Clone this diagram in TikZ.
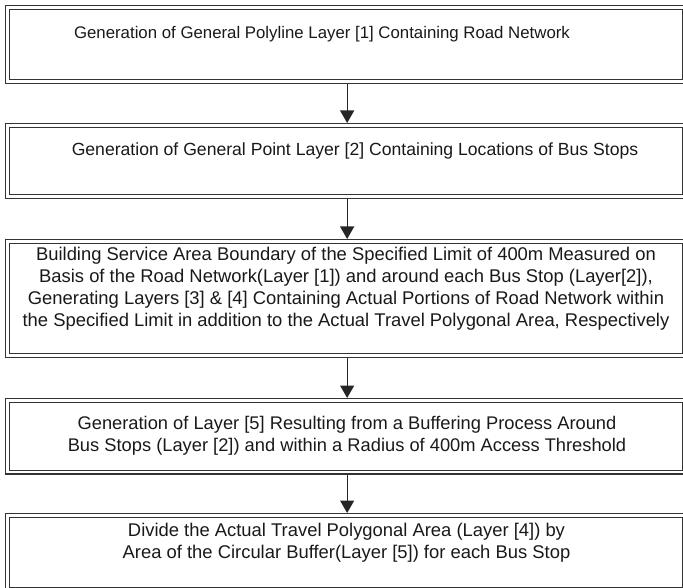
\documentclass[tikz,border=0pt]{standalone}
\usepackage{fontspec}
\setmainfont{Liberation Sans}
\usetikzlibrary{arrows.meta}
\begin{document}
\begin{tikzpicture}[x=1pt,y=-1pt,
  stepbox/.style={draw=black!80, line width=1.3pt, double=white, double distance=2.5pt,
    minimum width=677pt, inner sep=0pt, anchor=north west},
  label/.style={text=black!90, align=center, inner sep=0pt, anchor=base},
  fs/.style={font=\fontsize{#1}{21.7}\selectfont},
  flow/.style={draw=black!85, line width=1.3pt, shorten <=2pt, shorten >=2pt,
    -{Triangle[width=14pt,length=12.5pt]}}]
\useasboundingbox (0,0) rectangle (683,588);

% five process boxes, top to bottom
\node[stepbox, minimum height=74pt]   (b1) at (7,7)   {};
\node[stepbox, minimum height=71pt]   (b2) at (7,125) {};
\node[stepbox, minimum height=114pt]  (b3) at (7,241) {};
\node[stepbox, minimum height=71.5pt] (b4) at (7,400) {};
\node[stepbox, minimum height=74pt]   (b5) at (7,515) {};

% box texts (anchored on the baseline of the last line)
\node[label, fs=16.8] (t1) at (322,38.5) {Generation of General Polyline Layer [1] Containing Road Network};
\node[label, fs=17.6] (t2) at (355,155.5) {Generation of General Point Layer [2] Containing Locations of Bus Stops};
\node[label, fs=18.4] (t3) at (346,326) {Building Service Area Boundary of the Specified Limit of 400m Measured on\\
  Basis of the Road Network(Layer [1]) and around each Bus Stop (Layer[2]),\\
  Generating Layers [3] \& [4] Containing Actual Portions of Road Network within\\
  the Specified Limit in addition to the Actual Travel Polygonal Area, Respectively};
\node[label, fs=18.3] (t4) at (347,451) {Generation of Layer [5] Resulting from a Buffering Process Around\\
  Bus Stops (Layer [2]) and within a Radius of 400m Access Threshold};
\node[label, fs=18.4] (t5) at (346.5,558) {Divide the Actual Travel Polygonal Area (Layer [4]) by\\
  Area of the Circular Buffer(Layer [5]) for each Bus Stop};

% connectors
\draw[flow] ([xshift=1pt]b1.south) -- ([xshift=1pt]b2.north);
\draw[flow] ([xshift=1pt]b2.south) -- ([xshift=1pt]b3.north);
\draw[flow] ([xshift=1pt]b3.south) -- ([xshift=1pt]b4.north);
\draw[flow] ([xshift=1pt]b4.south) -- ([xshift=1pt]b5.north);
\end{tikzpicture}
\end{document}
